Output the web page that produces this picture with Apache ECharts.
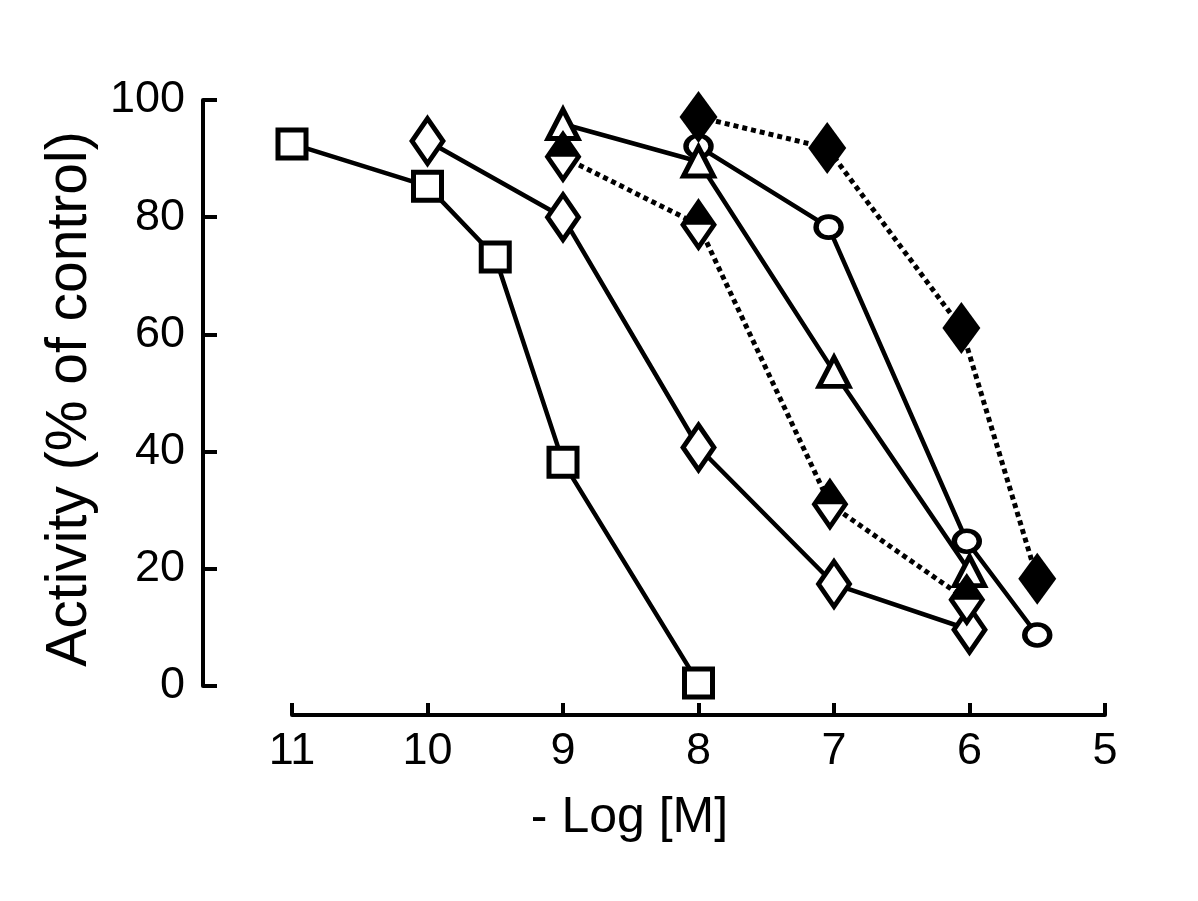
<!DOCTYPE html>
<html>
<head>
<meta charset="utf-8">
<script src="https://cdn.jsdelivr.net/npm/echarts@6/dist/echarts.min.js"></script>
<style>
html,body{margin:0;padding:0;background:#fff;}
#chart{width:1198px;height:901px;}
</style>
</head>
<body>
<div id="chart"></div>
<script>
// Data (x = -log[M], y = activity % of control)
const xTicks = [11, 10, 9, 8, 7, 6, 5];
const yTicks = [0, 20, 40, 60, 80, 100];

const squareX = [11, 10, 9.5, 9, 8];
const squareY = [92.5, 85.3, 73.2, 38.2, 0.5];

const openDiamondX = [10, 9, 8, 7, 6];
const openDiamondY = [93, 80, 40.7, 17.4, 9.6];

const triangleX = [9, 8, 7, 6];
const triangleY = [95.9, 89.5, 53.6, 19.6];

const circleX = [8, 7.04, 6.02, 5.5];
const circleY = [92.1, 78.3, 24.7, 8.7];

const halfDiamondX = [9, 8, 7.03, 6.02];
const halfDiamondY = [90.3, 78.7, 31, 14.7];

const filledDiamondX = [8, 7.05, 6.06, 5.5];
const filledDiamondY = [97.1, 91.8, 61.1, 18.3];

function pairs(xs, ys) { return xs.map((x, i) => [x, ys[i]]); }

const FONT = '"Liberation Sans", Arial, Helvetica, sans-serif';
const BLACK = '#000';

const solid = { color: BLACK, width: 4.5, type: 'solid' };
const dotted = { color: BLACK, width: 5, type: [5, 4], cap: 'butt' };
const openItem = { color: '#fff', borderColor: BLACK, borderWidth: 5, opacity: 1 };

const chart = echarts.init(document.getElementById('chart'), null, { renderer: 'canvas' });

chart.setOption({
  animation: false,
  backgroundColor: '#fff',
  grid: { left: 292, right: 93, top: 100, bottom: 215, containLabel: false },
  xAxis: {
    type: 'value',
    inverse: true,
    min: 5, max: 11, interval: 1,
    offset: 29,
    name: '- Log [M]',
    nameLocation: 'middle',
    nameGap: 78,
    nameTextStyle: { fontFamily: FONT, fontSize: 50, color: BLACK, padding: [0, 138, 0, 0] },
    axisLine: { show: true, onZero: false, lineStyle: { color: BLACK, width: 4 } },
    axisTick: { show: true, inside: true, length: 12, lineStyle: { color: BLACK, width: 4 } },
    axisLabel: { fontFamily: FONT, fontSize: 45, color: BLACK, margin: 14,
      formatter: v => (xTicks.indexOf(v) >= 0 ? String(v) : '') },
    splitLine: { show: false }
  },
  yAxis: {
    type: 'value',
    min: 0, max: 100, interval: 20,
    offset: 89,
    name: 'Activity (% of control)',
    nameLocation: 'middle',
    nameGap: 92,
    nameTextStyle: { fontFamily: FONT, fontSize: 57, color: BLACK, padding: [0, 12, 0, 0] },
    axisLine: { show: true, onZero: false, lineStyle: { color: BLACK, width: 4 } },
    axisTick: { show: true, inside: true, length: 14, lineStyle: { color: BLACK, width: 4 } },
    axisLabel: { fontFamily: FONT, fontSize: 45, color: BLACK, margin: 18,
      formatter: v => (yTicks.indexOf(v) >= 0 ? String(v) : '') },
    splitLine: { show: false }
  },
  series: [
    {
      type: 'line', data: pairs(squareX, squareY),
      symbol: 'rect', symbolSize: [28, 28],
      lineStyle: solid, itemStyle: openItem, z: 2
    },
    {
      type: 'line', data: pairs(openDiamondX, openDiamondY),
      symbol: 'diamond', symbolSize: [31, 45],
      lineStyle: solid, itemStyle: openItem, z: 3
    },
    {
      type: 'line', data: pairs(circleX, circleY),
      symbol: 'circle', symbolSize: [25, 21],
      lineStyle: solid, itemStyle: openItem, z: 4
    },
    {
      type: 'line', data: pairs(triangleX, triangleY),
      symbol: 'triangle', symbolSize: [30, 29],
      lineStyle: solid, itemStyle: openItem, z: 5
    },
    {
      type: 'line', data: pairs(halfDiamondX, halfDiamondY),
      symbol: 'diamond', symbolSize: [31, 45],
      lineStyle: dotted, itemStyle: openItem, z: 6
    },
    {
      type: 'scatter', data: pairs(halfDiamondX, halfDiamondY),
      symbol: 'path://M0,0 L10,10 L-10,10 Z', symbolSize: [34, 24], symbolOffset: [0, -12],
      symbolKeepAspect: false,
      itemStyle: { color: BLACK, opacity: 1 }, z: 7
    },
    {
      type: 'line', data: pairs(filledDiamondX, filledDiamondY),
      symbol: 'diamond', symbolSize: [38, 52],
      lineStyle: dotted, itemStyle: { color: BLACK, borderColor: BLACK, borderWidth: 0, opacity: 1 }, z: 8
    }
  ]
});
</script>
</body>
</html>
